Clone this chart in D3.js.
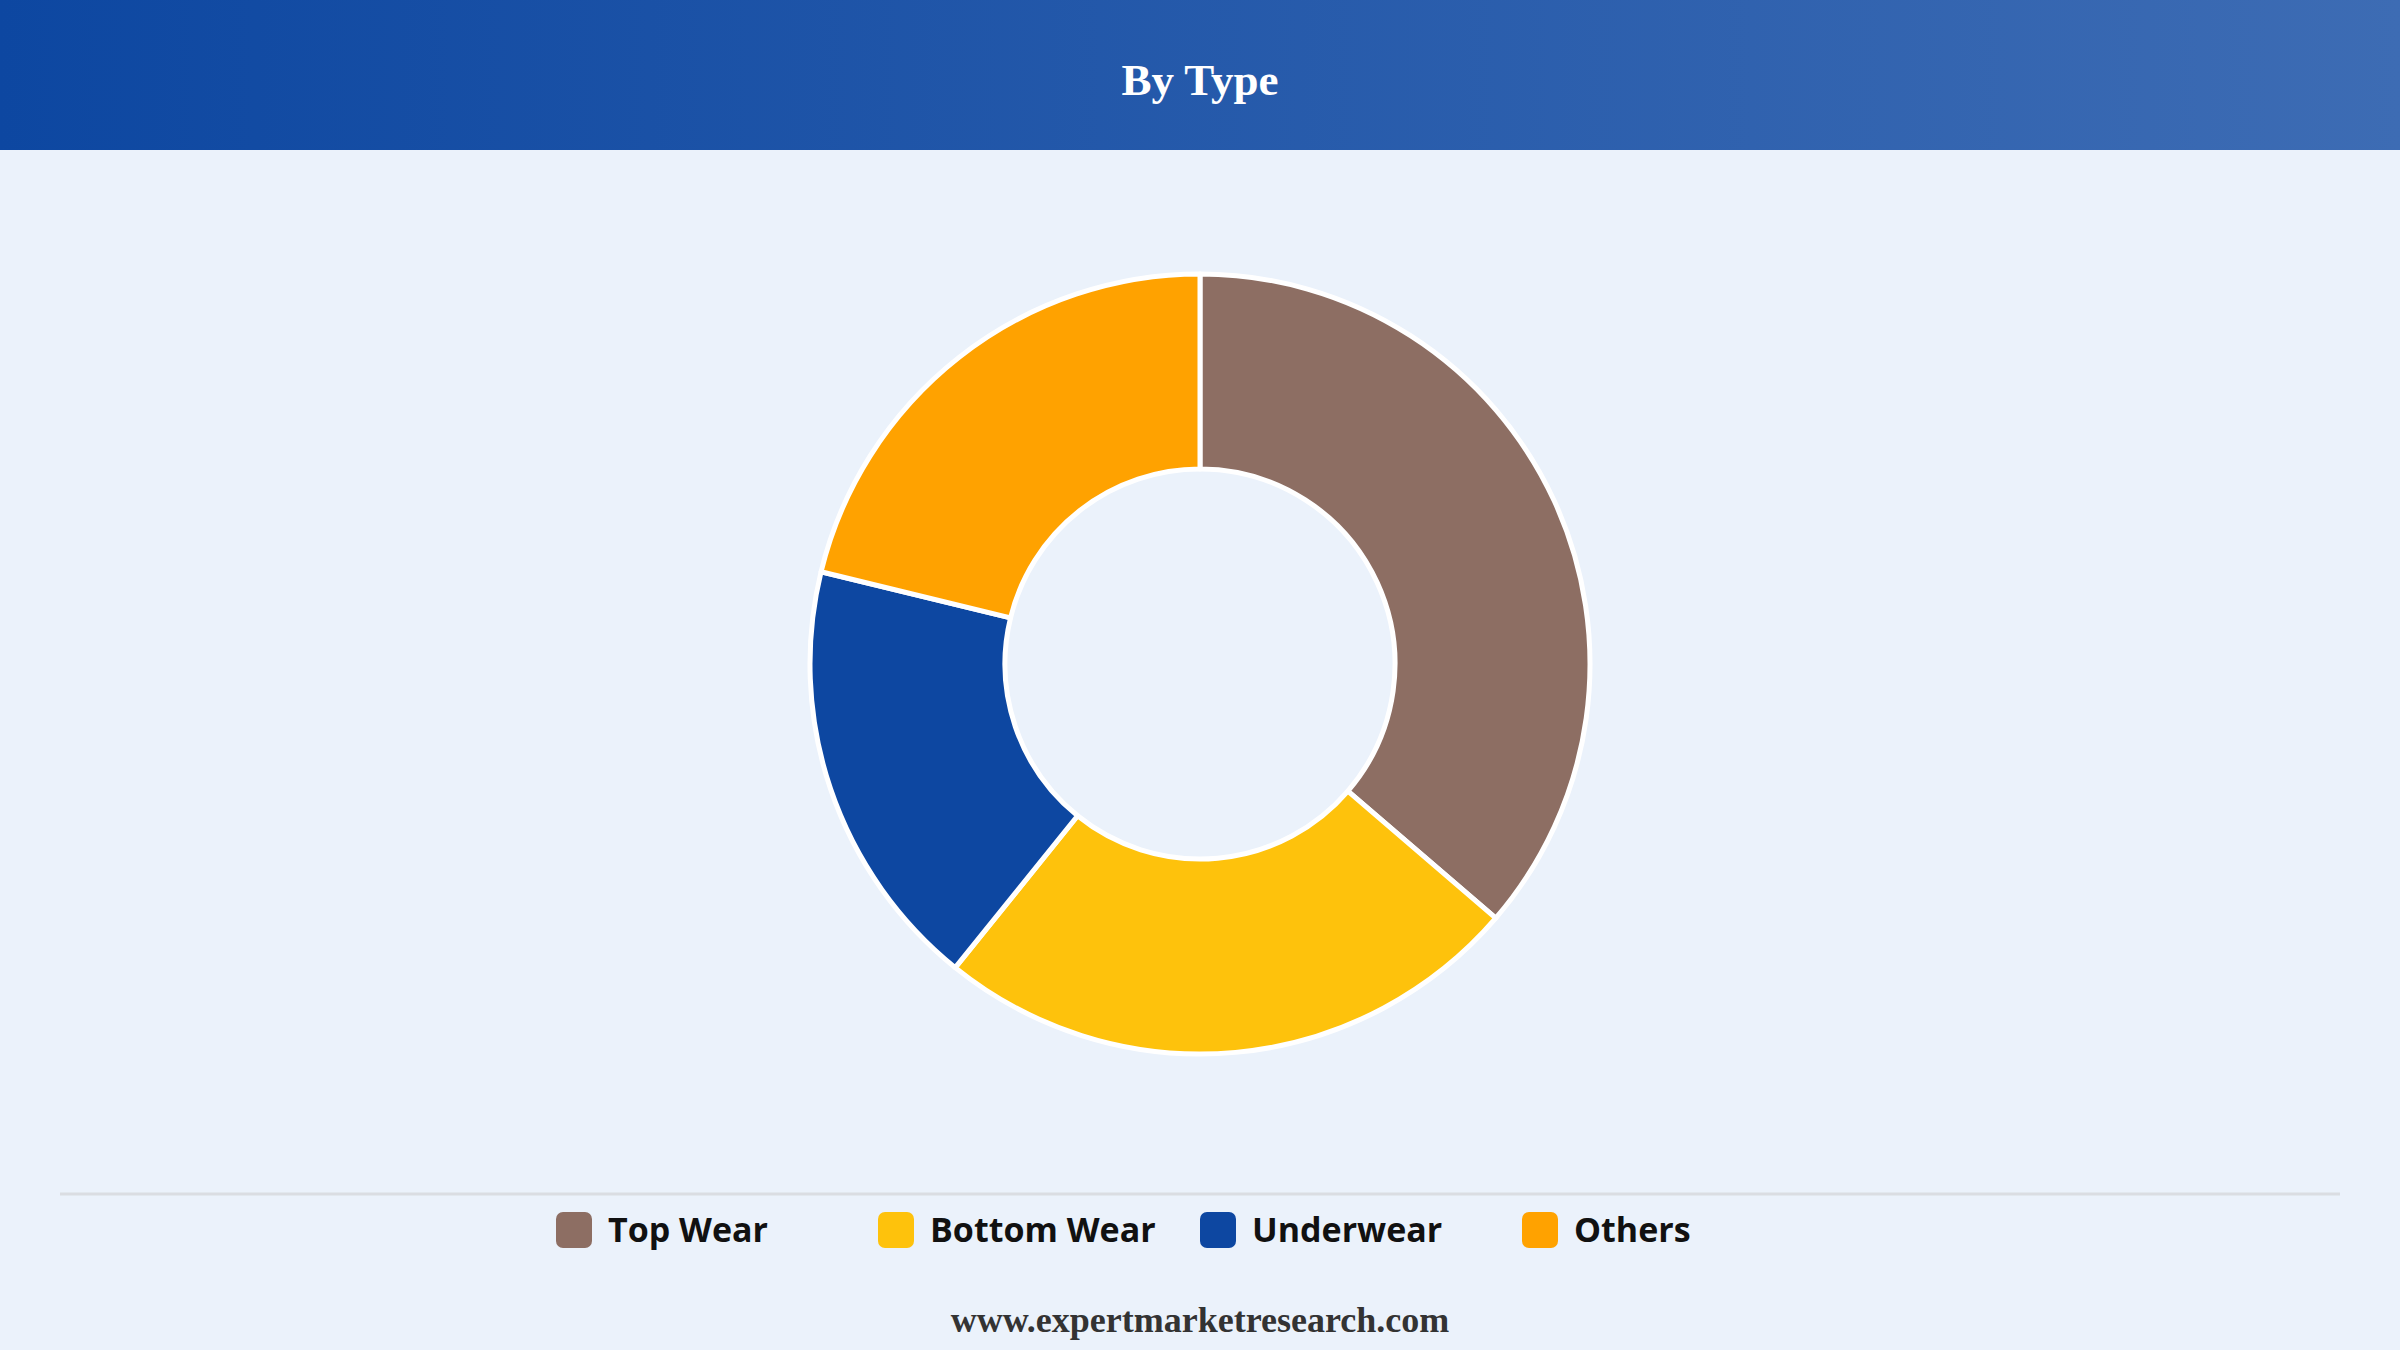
<!DOCTYPE html>
<html>
<head>
<meta charset="utf-8">
<script src="https://cdn.jsdelivr.net/npm/d3@7"></script>
<style>
  html, body { margin: 0; padding: 0; background: #ebf2fb; }
  svg { display: block; }
</style>
</head>
<body>
<svg id="chart" width="2400" height="1350"></svg>
<script>
// ---- Data ----
const categories = ["Top Wear", "Bottom Wear", "Underwear", "Others"];
const values = [36.3, 24.5, 18.0, 21.2];
const colors = ["#8d6e63", "#fec20c", "#0d47a1", "#ffa200"];
const title = "By Type";
const footer = "www.expertmarketresearch.com";

const W = 2400, H = 1350;
const svg = d3.select("#chart");

// background
svg.append("rect").attr("width", W).attr("height", H).attr("fill", "#ebf2fb");

// header gradient
const defs = svg.append("defs");
const grad = defs.append("linearGradient").attr("id", "hdr").attr("x1", "0%").attr("x2", "100%");
grad.append("stop").attr("offset", "0%").attr("stop-color", "#0d47a1");
grad.append("stop").attr("offset", "100%").attr("stop-color", "#3d6cb4");
svg.append("rect").attr("x", 0).attr("y", 0).attr("width", W).attr("height", 150).attr("fill", "url(#hdr)");

svg.append("text")
  .attr("x", W / 2).attr("y", 95)
  .attr("text-anchor", "middle")
  .attr("font-family", "'Liberation Serif', 'Times New Roman', serif")
  .attr("font-weight", "bold")
  .attr("font-size", 45)
  .attr("fill", "#ffffff")
  .text(title);

// donut
const cx = 1200, cy = 664, outerR = 390, innerR = 195;
const color = d3.scaleOrdinal().domain(categories).range(colors);
const pie = d3.pie().sort(null).value(d => d.value);
const arc = d3.arc().innerRadius(innerR).outerRadius(outerR);
const data = categories.map((c, i) => ({ name: c, value: values[i] }));

svg.append("g")
  .attr("transform", `translate(${cx},${cy})`)
  .selectAll("path")
  .data(pie(data))
  .join("path")
  .attr("d", arc)
  .attr("fill", d => color(d.data.name))
  .attr("stroke", "#ffffff")
  .attr("stroke-width", 5)
  .attr("stroke-linejoin", "round");

// separator line
svg.append("line")
  .attr("x1", 60).attr("x2", 2340)
  .attr("y1", 1194).attr("y2", 1194)
  .attr("stroke", "#dadde2").attr("stroke-width", 3);

// legend
const legendX = d3.scalePoint().domain(categories).range([556, 1522]);
const lg = svg.append("g").selectAll("g")
  .data(categories)
  .join("g")
  .attr("transform", d => `translate(${legendX(d)},1212)`);
lg.append("rect")
  .attr("width", 36).attr("height", 36)
  .attr("rx", 7).attr("ry", 7)
  .attr("fill", d => color(d));
lg.append("text")
  .attr("x", 52).attr("y", 30)
  .attr("font-family", "'Open Sans', 'Noto Sans', sans-serif")
  .attr("font-weight", 700)
  .attr("font-size", 34)
  .attr("fill", "#111111")
  .text(d => d);

// footer
svg.append("text")
  .attr("x", W / 2).attr("y", 1332)
  .attr("text-anchor", "middle")
  .attr("font-family", "'Liberation Serif', 'Times New Roman', serif")
  .attr("font-weight", "bold")
  .attr("font-size", 36)
  .attr("fill", "#333333")
  .text(footer);
</script>
</body>
</html>
